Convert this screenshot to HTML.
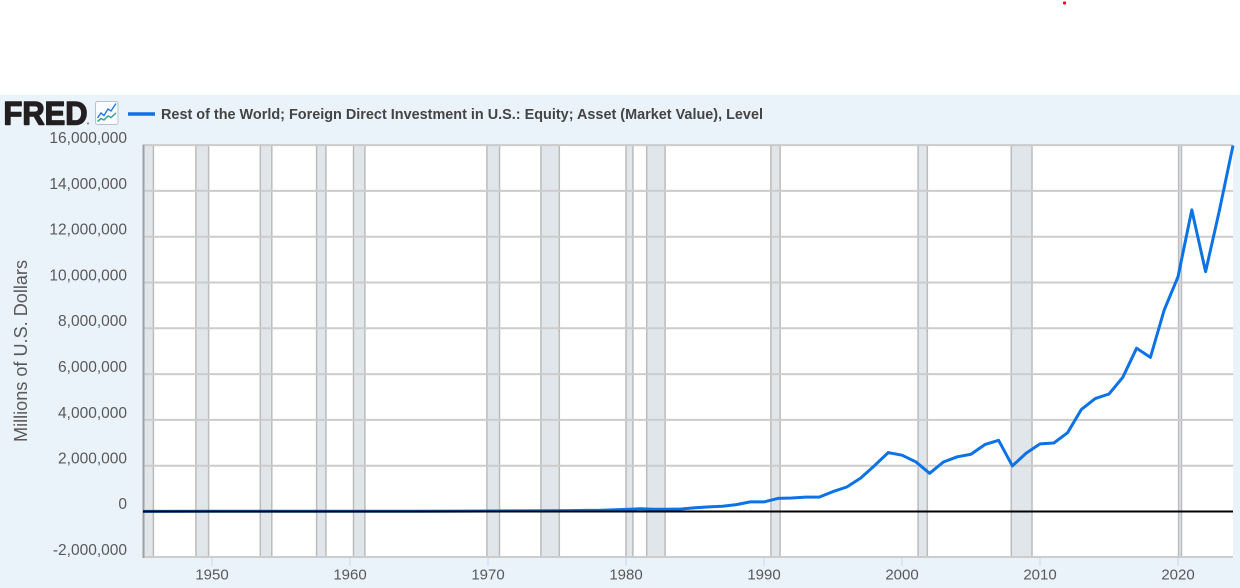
<!DOCTYPE html>
<html><head><meta charset="utf-8"><style>
html,body{margin:0;padding:0;background:#fff;}
svg{display:block;}
</style></head><body>
<svg width="1240" height="588" viewBox="0 0 1240 588" xmlns="http://www.w3.org/2000/svg" font-family="'Liberation Sans', sans-serif">
<rect x="0" y="0" width="1240" height="588" fill="#ffffff"/>
<circle cx="1064.5" cy="3" r="1.6" fill="#e0141e"/>
<rect x="0" y="95" width="1240" height="493" fill="#eaf2fa"/>

<!-- Logo -->
<text x="3.5" y="124.5" font-size="32" font-weight="bold" fill="#231f20" stroke="#231f20" stroke-width="1.4" stroke-linejoin="round" textLength="84" lengthAdjust="spacingAndGlyphs">FRED</text>
<circle cx="88" cy="123.5" r="1" fill="#777"/>
<rect x="95.5" y="101.5" width="22.5" height="23" rx="2" fill="#fbfcfe" stroke="#b9c2cc" stroke-width="1"/>
<polyline points="97.5,118 101,113 104,115.5 108,109 111,111 116,103.5" fill="none" stroke="#2a7de1" stroke-width="1.5"/>
<polyline points="97.5,121.5 101,118.5 104,120 108,116 111,117.5 116,113" fill="none" stroke="#2ca58d" stroke-width="1.5"/>

<!-- Legend -->
<line x1="128" y1="114" x2="155" y2="114" stroke="#0b73e6" stroke-width="3.5"/>
<text x="161" y="119" font-size="14.5" font-weight="bold" fill="#444444" textLength="602" lengthAdjust="spacingAndGlyphs">Rest of the World; Foreign Direct Investment in U.S.: Equity; Asset (Market Value), Level</text>

<!-- Plot area -->
<rect x="143" y="145" width="1090" height="412" fill="#ffffff"/>

<!-- Recession bands -->
<g fill="#e1e6eb" stroke="#bbbbbb" stroke-width="1.5">
<rect x="143.5" y="145" width="9.9" height="412"/>
<rect x="195.9" y="145" width="12.7" height="412"/>
<rect x="260.3" y="145" width="11.5" height="412"/>
<rect x="316.6" y="145" width="9.3" height="412"/>
<rect x="353.5" y="145" width="11.4" height="412"/>
<rect x="486.9" y="145" width="12.6" height="412"/>
<rect x="540.9" y="145" width="18.4" height="412"/>
<rect x="626" y="145" width="6.9" height="412"/>
<rect x="646.7" y="145" width="18.4" height="412"/>
<rect x="770.9" y="145" width="9.2" height="412"/>
<rect x="918.1" y="145" width="9.2" height="412"/>
<rect x="1011.3" y="145" width="20.7" height="412"/>
<rect x="1178.6" y="145" width="2.9" height="412"/>
</g>

<!-- Horizontal gridlines -->
<g stroke="#cccccc" stroke-width="2">
<line x1="143" y1="145.1" x2="1233" y2="145.1"/>
<line x1="143" y1="190.9" x2="1233" y2="190.9"/>
<line x1="143" y1="236.7" x2="1233" y2="236.7"/>
<line x1="143" y1="282.5" x2="1233" y2="282.5"/>
<line x1="143" y1="328.3" x2="1233" y2="328.3"/>
<line x1="143" y1="374.1" x2="1233" y2="374.1"/>
<line x1="143" y1="419.9" x2="1233" y2="419.9"/>
<line x1="143" y1="465.7" x2="1233" y2="465.7"/>
<line x1="143" y1="557" x2="1233" y2="557"/>
</g>
<line x1="143.5" y1="145" x2="143.5" y2="558" stroke="#a0a0a0" stroke-width="2"/>

<!-- X ticks -->
<g stroke="#ccd6eb" stroke-width="1">
<line x1="212" y1="558" x2="212" y2="566"/>
<line x1="350" y1="558" x2="350" y2="566"/>
<line x1="488" y1="558" x2="488" y2="566"/>
<line x1="626" y1="558" x2="626" y2="566"/>
<line x1="764" y1="558" x2="764" y2="566"/>
<line x1="902" y1="558" x2="902" y2="566"/>
<line x1="1040" y1="558" x2="1040" y2="566"/>
<line x1="1178" y1="558" x2="1178" y2="566"/>
</g>

<!-- Series -->
<polyline fill="none" stroke="#0b73e6" stroke-width="3" stroke-linejoin="round" points="143,511.4 212,511.3 281,511.3 350,511.3 391.4,511.2 419,511.2 460.4,511.1 488,511 515.6,510.9 543.2,510.8 570.8,510.6 584.6,510.4 598.4,510.4 612.2,509.9 626,509.4 639.8,508.8 653.6,509.2 667.4,509.2 681.2,509 695,507.8 708.8,506.9 722.6,506.2 736.4,504.6 750.2,501.9 764,501.9 777.8,498.4 791.6,498 805.4,497.1 819.2,497.1 833,491.6 846.8,487 860.6,478.1 874.4,465.7 888.2,452.6 902,455.2 915.8,461.8 929.6,473.3 943.4,462 957.2,456.8 971,454.25 984.8,444.6 998.6,440.3 1012.4,465.9 1026.2,453.1 1040,443.9 1053.8,443 1067.6,432.7 1081.4,409.4 1095.2,398.6 1109,394 1122.8,377.3 1136.6,348.2 1150.4,357.4 1164.2,310 1178,276.8 1191.8,209.9 1205.6,271.7 1219.4,210.4 1233,145.5"/>

<!-- Zero line -->
<line x1="143" y1="511.5" x2="1233" y2="511.5" stroke="#000000" stroke-width="2"/>

<!-- Y labels -->
<g font-size="15.5" fill="#595959" text-anchor="end">
<text x="127" y="143">16,000,000</text>
<text x="127" y="189">14,000,000</text>
<text x="127" y="234.5">12,000,000</text>
<text x="127" y="280.5">10,000,000</text>
<text x="127" y="326">8,000,000</text>
<text x="127" y="372">6,000,000</text>
<text x="127" y="418">4,000,000</text>
<text x="127" y="463.5">2,000,000</text>
<text x="127" y="509">0</text>
<text x="127" y="555">-2,000,000</text>
</g>

<!-- X labels -->
<g font-size="15" fill="#595959" text-anchor="middle">
<text x="212" y="579.5">1950</text>
<text x="350" y="579.5">1960</text>
<text x="488" y="579.5">1970</text>
<text x="626" y="579.5">1980</text>
<text x="764" y="579.5">1990</text>
<text x="902" y="579.5">2000</text>
<text x="1040" y="579.5">2010</text>
<text x="1178" y="579.5">2020</text>
</g>

<!-- Y axis title -->
<text transform="translate(27,351) rotate(-90)" font-size="18" fill="#595959" text-anchor="middle" textLength="182" lengthAdjust="spacingAndGlyphs">Millions of U.S. Dollars</text>
</svg>
</body></html>
